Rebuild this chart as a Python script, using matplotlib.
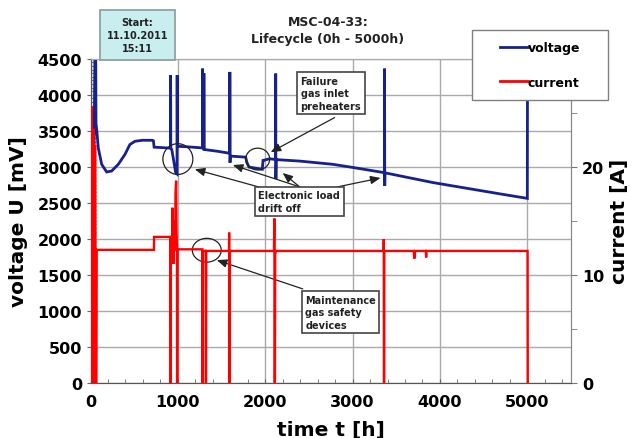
import matplotlib
matplotlib.use("Agg")
import matplotlib.pyplot as plt
from matplotlib.patches import Ellipse, Rectangle
from matplotlib.lines import Line2D
from matplotlib.ticker import MultipleLocator

plt.rcParams['font.family'] = ['DejaVu Sans']
plt.rcParams['font.weight'] = 'bold'

# ---- data ----
volt_t = [0, 25, 50, 60, 63, 71, 89, 128, 185, 242, 318, 394, 451, 509, 594, 709, 720, 728, 880,
          915, 917, 919, 930, 950, 975, 990, 992, 994, 1100, 1282, 1283, 1285, 1297, 1298, 1300,
          1450, 1566, 1594, 1595, 1597, 1600, 1604, 1776, 1790, 1814, 1966, 1975, 1985, 2050,
          2118, 2120, 2122, 2125, 2156, 2394, 2775, 3000, 3364, 3366, 3368, 3370, 3918, 4299,
          4700, 5000, 5002]
volt_v = [0, 1000, 4500, 4500, 3600, 3515, 3261, 3033, 2927, 2940, 3033, 3170, 3308, 3353, 3367, 3367, 3360, 3271, 3261,
          3258, 4271, 3256, 3240, 3100, 2917, 2900, 4271, 3284, 3277, 3261, 4362, 3261, 3255, 4300, 3239,
          3215, 3192, 3187, 4316, 3055, 3150, 3147, 3133, 3060, 2995, 2964, 3088, 3090, 3110,
          3100, 4293, 2830, 3100, 3096, 3078, 3033, 2990, 2917, 4362, 2734, 2915, 2780, 2702,
          2620, 2560, 4500]

curr_t = [0, 8, 10, 15, 20, 30, 32, 40, 50, 52, 60, 68, 71, 726, 728, 914, 915, 917, 918, 935, 937,
          940, 945, 950, 955, 970, 973, 980, 985, 990, 991, 993, 995, 1004, 1280, 1282, 1284, 1286,
          1318, 1320, 1323, 1325, 1585, 1587, 1589, 1591, 1593, 1596, 2100, 2105, 2108, 2111, 2114,
          2120, 3355, 3357, 3359, 3361, 3363, 3700, 3708, 3715, 3838, 3842, 3846, 5003, 5005]
curr_a = [0, 0, 25.6, 24, 0, 0, 23.5, 0, 0, 22, 0, 0, 12.3, 12.3, 13.5, 13.5, 0, 0, 13.5, 13.3, 16.2,
          11.1, 15, 11, 12.3, 12.3, 17.5, 18.7, 14, 12.3, 0, 0, 12.3, 12.35, 12.35, 0, 0, 12.2,
          12.2, 0, 0, 12.2, 12.2, 13.9, 0, 0, 9.8, 12.2, 12.2, 15.2, 0, 0, 11.8,
          12.2, 12.2, 13.3, 0, 0, 12.2, 12.2, 11.5, 12.2, 12.2, 11.6, 12.2, 12.2, 0]

x_ticks = [0, 1000, 2000, 3000, 4000, 5000]
y_ticks = [0, 500, 1000, 1500, 2000, 2500, 3000, 3500, 4000, 4500]
y2_ticks = [0, 10, 20, 30]

W, H = 632, 439
fig = plt.figure(figsize=(W / 100, H / 100), dpi=100)
ax = fig.add_axes([90.5 / W, 1 - 383.7 / H, (571 - 90.5) / W, (383.7 - 59.7) / H])
ax2 = ax.twinx()

navy = '#17218c'
ax.plot(volt_t, volt_v, color=navy, lw=2.0, solid_joinstyle='miter', zorder=3)
ax2.plot(curr_t, curr_a, color='#ff0000', lw=1.7, solid_joinstyle='miter', zorder=3)

ax.set_xlim(0, 5500)
ax.set_ylim(0, 4500)
ax2.set_ylim(0, 30)
ax.set_xticks(x_ticks)
ax.set_yticks(y_ticks)
ax.xaxis.set_minor_locator(MultipleLocator(200))
ax.yaxis.set_minor_locator(MultipleLocator(50))
ax2.set_yticks(y2_ticks)
ax2.yaxis.set_minor_locator(MultipleLocator(5))

ax.set_axisbelow(True)
ax.grid(which='major', color='#aaaaaa', lw=1.0)

tick_fs = 11.5
ax.tick_params(axis='x', which='major', direction='in', length=3, color='#666', pad=8, labelsize=tick_fs)
ax.tick_params(axis='x', which='minor', direction='in', length=3, color='#666')
ax.tick_params(axis='y', which='major', direction='out', length=3, color='#666', pad=3, labelsize=tick_fs)
ax.tick_params(axis='y', which='minor', direction='in', length=3.5, width=0.9, color='#777')
ax2.tick_params(axis='y', which='major', direction='out', length=4, color='#777', pad=4, labelsize=tick_fs)
ax2.tick_params(axis='y', which='minor', direction='out', length=4, color='#777')

for a in (ax, ax2):
    a.spines['left'].set_color('#555')
    a.spines['bottom'].set_color('#555')
    a.spines['top'].set_color('#aaaaaa')
    a.spines['right'].set_color('#888')

ax.set_xlabel('time t [h]', fontsize=14.5, fontweight='bold', labelpad=8)
ax.set_ylabel('voltage U [mV]', fontsize=14.5, fontweight='bold', labelpad=7)
ax2.set_ylabel('current [A]', fontsize=14.5, fontweight='bold', labelpad=4)

# title
fig.text(328 / W, 1 - 16 / H, 'MSC-04-33:\nLifecycle (0h - 5000h)', ha='center', va='top',
         fontsize=9, fontweight='bold', linespacing=1.35, color='#222')

# start box
fig.text(137.4 / W, 1 - 36.3 / H, 'Start:\n11.10.2011\n15:11', ha='center', va='center',
         fontsize=7, fontweight='bold', linespacing=1.4, color='#222',
         bbox=dict(boxstyle='square,pad=0.7', fc='#c8eef0', ec='#8a9a9a', lw=1.2))

# legend box
fig.patches.append(Rectangle((472 / W, 1 - 100.7 / H), 136 / W, 69.7 / H, transform=fig.transFigure,
                             fc='white', ec='#808080', lw=1.0, zorder=4))
handles = [Line2D([], [], color=navy, lw=2), Line2D([], [], color='#ff0000', lw=2)]
fig.legend(handles, ['voltage', 'current'], loc='center', bbox_to_anchor=(540 / W, 1 - 66 / H),
           frameon=False, handlelength=2.2, handletextpad=0.0, labelspacing=1.7,
           prop={'weight': 'bold', 'size': 9})

# annotations
box_kw = dict(boxstyle='square,pad=0.35', fc='white', ec='#444', lw=1.2)
txt_kw = dict(fontsize=7, fontweight='bold', color='#222', linespacing=1.3, multialignment='left',
              ha='center', va='center', zorder=6)
ax.text(2751, 4022, 'Failure\ngas inlet\npreheaters', bbox=box_kw, **txt_kw)
ax.text(2389, 2514, 'Electronic load\ndrift off', bbox=box_kw, **txt_kw)
ax.text(2863, 980, 'Maintenance\ngas safety\ndevices', bbox=box_kw, **txt_kw)

for (cx, cy, w, h) in [(1000, 3106, 343, 427), (1914, 3106, 274, 303), (1331, 1840, 331, 330)]:
    ax.add_patch(Ellipse((cx, cy), w, h, fill=False, ec='#222', lw=0.9, zorder=5))

arrows = [((2794, 3682), (2063, 3202)),
          ((1960, 2707), (1194, 2964)),
          ((2394, 2720), (1629, 3023)),
          ((2394, 2720), (2200, 2913)),
          ((2829, 2720), (3320, 2844)),
          ((2429, 1303), (1446, 1702))]
for start, tip in arrows:
    ax.annotate('', xy=tip, xytext=start, zorder=5,
                arrowprops=dict(arrowstyle='-|>,head_length=0.6,head_width=0.25', color='#222', lw=0.9,
                                shrinkA=0, shrinkB=0))

fig.savefig('out.png', dpi=100)
